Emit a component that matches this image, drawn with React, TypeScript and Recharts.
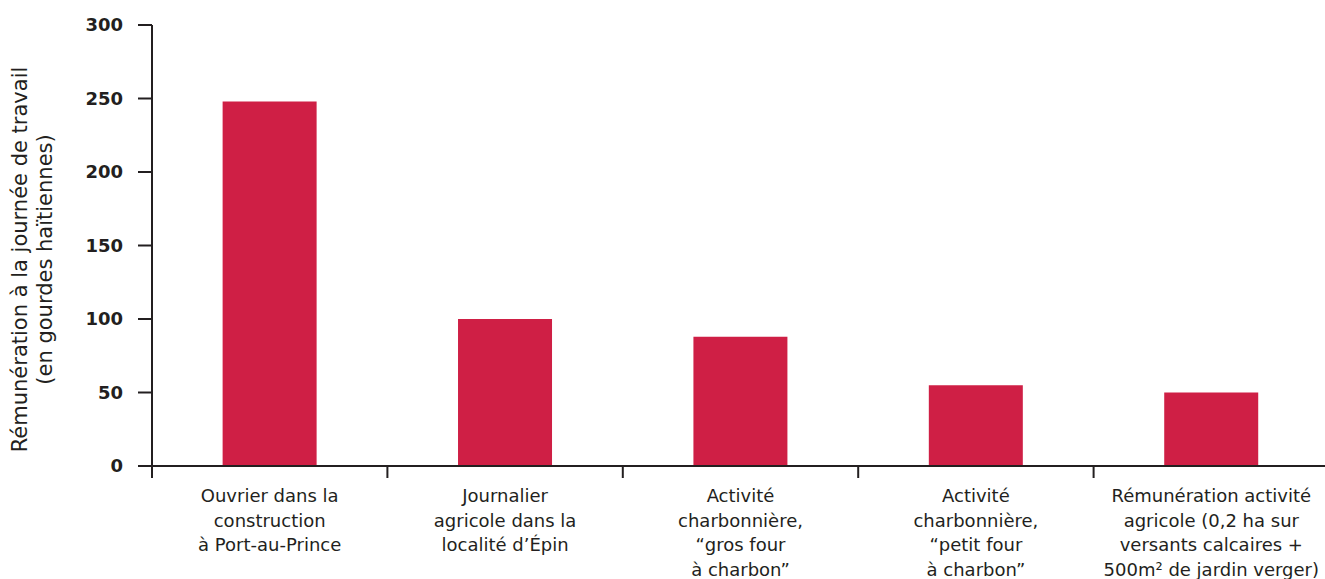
import React from "react";
import { BarChart, Bar, XAxis, YAxis } from "recharts";

const categories = [
  "Ouvrier dans la construction à Port-au-Prince",
  "Journalier agricole dans la localité d’Épin",
  "Activité charbonnière, “gros four à charbon”",
  "Activité charbonnière, “petit four à charbon”",
  "Rémunération activité agricole (0,2 ha sur versants calcaires + 500m² de jardin verger)",
];

const categoryLines = [
  ["Ouvrier dans la", "construction", "à Port-au-Prince"],
  ["Journalier", "agricole dans la", "localité d’Épin"],
  ["Activité", "charbonnière,", "“gros four", "à charbon”"],
  ["Activité", "charbonnière,", "“petit four", "à charbon”"],
  ["Rémunération activité", "agricole (0,2 ha sur", "versants calcaires +", "500m² de jardin verger)"],
];

const values = [248, 100, 88, 55, 50];

const yTicks = [0, 50, 100, 150, 200, 250, 300];

const yAxisLabelLines = ["Rémunération à la journée de travail", "(en gourdes haïtiennes)"];

const data = categories.map((name, i) => ({ name, value: values[i] }));

const INK = "#231f20";
const BAR = "#cf1f45";
const FONT = "'DejaVu Sans', 'Liberation Sans', Arial, sans-serif";

function XTick(props: any) {
  const { x, y, payload, index } = props;
  const half = payload && typeof payload.offset === "number" ? payload.offset : 0;
  const lines = categoryLines[index] || [];
  const isLast = index === categories.length - 1;
  return (
    <g>
      <line x1={x - half} x2={x - half} y1={y} y2={y + 12} stroke={INK} strokeWidth={2} />
      {isLast && <line x1={x + half} x2={x + half} y1={y} y2={y + 12} stroke={INK} strokeWidth={2} />}
      <text x={x} y={y + 36} textAnchor="middle" fill={INK} fontSize={18} fontFamily={FONT}>
        {lines.map((l, i) => (
          <tspan key={i} x={x} dy={i === 0 ? 0 : 24.5}>
            {l}
          </tspan>
        ))}
      </text>
    </g>
  );
}

function YLabel(props: any) {
  const vb = props.viewBox || { x: 0, y: 0, width: 0, height: 0 };
  const cy = vb.y + vb.height / 2 + 14;
  return (
    <text transform="rotate(-90)" textAnchor="middle" fill={INK} fontSize={21} fontFamily={FONT}>
      <tspan x={-cy} y={vb.x + 27}>{yAxisLabelLines[0]}</tspan>
      <tspan x={-cy} y={vb.x + 52}>{yAxisLabelLines[1]}</tspan>
    </text>
  );
}

export default function App() {
  return (
    <div
      style={{
        position: "absolute",
        left: 0,
        top: 0,
        width: 1325,
        height: 579,
        overflow: "hidden",
        background: "#ffffff",
      }}
    >
      <BarChart
        width={1340}
        height={579}
        data={data}
        margin={{ top: 25, right: 11, left: 0, bottom: 0 }}
        barCategoryGap="30%"
      >
        <XAxis
          dataKey="name"
          type="category"
          height={113}
          axisLine={{ stroke: INK, strokeWidth: 2 }}
          tickLine={false}
          tickSize={0}
          tickMargin={0}
          interval={0}
          tick={<XTick />}
        />
        <YAxis
          type="number"
          domain={[0, 300]}
          ticks={yTicks}
          width={152}
          axisLine={{ stroke: INK, strokeWidth: 2 }}
          tickLine={{ stroke: INK, strokeWidth: 2 }}
          tickSize={14}
          tickMargin={15}
          tick={{ fill: INK, fontSize: 18, fontWeight: "bold", fontFamily: FONT }}
          label={{ content: <YLabel /> }}
        />
        <Bar dataKey="value" fill={BAR} isAnimationActive={false} />
      </BarChart>
    </div>
  );
}
